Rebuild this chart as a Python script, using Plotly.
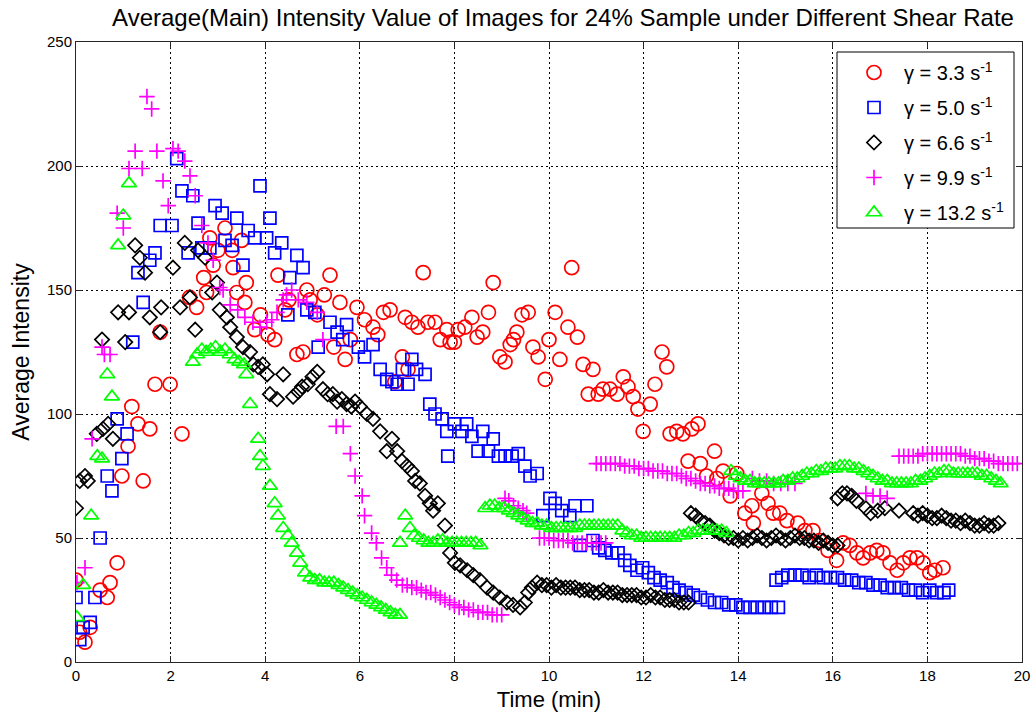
import plotly.graph_objects as go

# ---- data: (time [min], average intensity) ----
pts_33 = [(0.0,33),(0.08,12),(0.19,8),(0.3,14),(0.51,29),(0.66,26),(0.72,32),(0.87,40),(0.97,75),(1.1,87),
          (1.18,103),(1.31,96),(1.42,73),(1.56,94),(1.67,112),(1.78,133),(1.99,112),(2.24,92),(2.4,147),(2.55,143),
          (2.7,155),(2.76,149),(2.83,171),(2.9,160),(3.0,166),(3.15,175),(3.3,166),(3.32,159),(3.4,149),(3.5,170),
          (3.57,145),(3.6,153),(3.78,134),(3.9,140),(4.06,132),(4.2,130),(4.27,156),(4.42,142),(4.5,146),(4.67,124),
          (4.8,125),(4.88,150),(4.95,146),(5.1,140),(5.25,148),(5.37,156),(5.45,127),(5.58,145),(5.69,122),(5.8,130),
          (5.94,143),(6.1,138),(6.28,135),(6.38,132),(6.5,141),(6.64,142),(6.74,113),(6.9,123),(6.96,139),(7.02,118),
          (7.1,137),(7.23,135),(7.34,157),(7.44,137),(7.59,137),(7.7,130),(7.84,134),(7.91,129),(8.0,129),(8.08,134),
          (8.22,135),(8.37,139),(8.48,131),(8.6,133),(8.72,141),(8.82,153),(8.96,123),(9.07,121),(9.18,128),(9.25,130),
          (9.32,133),(9.43,140),(9.56,141),(9.66,127),(9.77,123),(9.92,114),(10.0,130),(10.13,141),(10.23,122),(10.4,135),
          (10.48,159),(10.6,131),(10.72,120),(10.83,108),(10.93,118),(11.04,108),(11.14,110),(11.29,110),(11.44,108),(11.57,115),
          (11.67,111),(11.78,107),(11.88,102),(11.99,93),(12.14,104),(12.24,112),(12.39,125),(12.49,119),(12.56,92),(12.7,93),
          (12.83,92),(12.94,81),(13.02,94),(13.15,96),(13.2,80),(13.33,75),(13.5,85),(13.55,74),(13.68,77),(13.83,67),
          (13.97,76),(14.14,60),(14.29,63),(14.32,56),(14.5,68),(14.63,64),(14.74,60),(14.88,60),(15.03,57),(15.26,56),
          (15.41,53),(15.58,53),(15.72,49),(15.9,45),(16.08,41),(16.22,48),(16.36,47),(16.51,44),(16.64,42),(16.79,44),
          (16.93,45),(17.06,44),(17.21,40),(17.36,37),(17.49,40),(17.63,42),(17.78,42),(17.91,40),(18.05,36),(18.16,37),
          (18.33,38)]

pts_50 = [(0.0,26),(0.08,9),(0.15,14),(0.3,16),(0.4,26),(0.51,50),(0.66,75),(0.76,69),(0.87,98),(0.97,82),
          (1.08,92),(1.2,129),(1.31,157),(1.42,145),(1.56,162),(1.67,165),(1.78,176),(2.03,176),(2.13,203),(2.24,190),
          (2.37,165),(2.47,188),(2.58,177),(2.66,167),(2.83,167),(2.94,184),(3.09,181),(3.15,170),(3.3,168),(3.4,179),
          (3.53,160),(3.64,174),(3.78,171),(3.89,192),(4.03,171),(4.1,179),(4.2,165),(4.35,169),(4.48,140),(4.52,155),
          (4.67,164),(4.8,159),(4.88,142),(5.05,141),(5.12,127),(5.37,137),(5.52,133),(5.64,130),(5.72,136),(5.97,127),
          (6.1,123),(6.28,128),(6.43,118),(6.57,114),(6.68,113),(6.79,112),(6.9,118),(7.02,112),(7.1,122),(7.2,118),
          (7.38,116),(7.48,104),(7.59,100),(7.74,98),(7.84,93),(7.86,83),(8.0,96),(8.16,93),(8.26,96),(8.37,91),
          (8.5,85),(8.6,93),(8.72,85),(8.82,90),(8.93,83),(9.07,83),(9.22,83),(9.35,84),(9.49,79),(9.6,75),
          (9.75,76),(9.87,59),(10.02,66),(10.13,64),(10.27,61),(10.44,59),(10.55,63),(10.8,63),(10.66,47),(10.93,49),
          (11.05,46),(11.18,45),(11.33,44),(11.46,44),(11.6,41),(11.71,39),(11.86,37),(11.98,38),(12.1,36),(12.22,34),
          (12.35,33),(12.5,32),(12.62,30),(12.75,29),(12.9,28),(13.05,27),(13.2,26),(13.35,25),(13.5,24),(13.65,24),
          (13.8,23),(13.95,23),(14.1,22),(14.25,22),(14.4,22),(14.55,22),(14.7,22),(14.85,22),(14.8,33),(14.92,34),
          (15.05,35),(15.2,35),(15.35,35),(15.5,34),(15.65,35),(15.8,34),(15.95,34),(16.1,34),(16.25,33),(16.4,33),
          (16.55,32),(16.7,32),(16.85,31),(17.0,31),(17.15,30),(17.3,30),(17.45,30),(17.6,29),(17.75,29),(17.9,28),
          (18.05,29),(18.2,28),(18.35,28),(18.45,29)]

pts_66 = [(0.0,62),(0.08,73),(0.19,75),(0.25,73),(0.44,92),(0.55,130),(0.57,94),(0.68,96),(0.78,90),(0.89,141),
          (1.04,129),(1.12,141),(1.25,168),(1.35,163),(1.46,157),(1.56,139),(1.78,133),(1.8,143),(2.05,159),(2.2,143),
          (2.3,169),(2.41,147),(2.52,134),(2.58,166),(2.73,163),(2.88,149),(2.98,153),(3.04,142),(3.19,139),(3.26,135),
          (3.4,131),(3.53,127),(3.68,125),(3.75,120),(3.85,119),(3.95,120),(4.04,116),(4.1,108),(4.25,106),(4.38,116),
          (4.59,107),(4.7,109),(4.78,111),(4.9,112),(5.0,115),(5.1,117),(5.22,110),(5.32,108),(5.43,108),(5.52,105),
          (5.62,106),(5.72,104),(5.82,103),(5.9,105),(6.0,103),(6.15,100),(6.28,98),(6.43,93),(6.57,85),(6.68,90),
          (6.79,85),(6.89,81),(7.0,79),(7.1,77),(7.17,73),(7.27,72),(7.38,67),(7.48,64),(7.55,61),(7.65,64),
          (7.8,55),(7.91,44),(8.01,40),(8.12,39),(8.27,37),(8.4,35),(8.54,33),(8.69,30),(8.82,28),(8.96,26),
          (9.11,24),(9.24,23),(9.39,22),(9.49,24),(9.56,28),(9.64,30),(9.75,32),(9.85,31),(9.95,31),(10.05,30),
          (10.15,31),(10.25,30),(10.35,30),(10.45,30),(10.55,30),(10.65,29),(10.75,29),(10.85,29),(10.95,28),(11.05,28),
          (11.15,29),(11.25,28),(11.35,28),(11.45,28),(11.55,27),(11.65,27),(11.75,27),(11.85,27),(11.95,26),(12.05,26),
          (12.15,27),(12.25,26),(12.35,26),(12.45,25),(12.55,25),(12.65,25),(12.75,24),(12.85,24),(12.95,24),(13.0,60),
          (13.1,59),(13.2,57),(13.3,56),(13.4,55),(13.5,53),(13.6,52),(13.7,51),(13.8,50),(13.9,50),(14.0,49),
          (14.1,50),(14.2,49),(14.3,50),(14.4,51),(14.5,50),(14.6,49),(14.7,50),(14.8,51),(14.9,50),(15.0,49),
          (15.1,50),(15.2,51),(15.3,50),(15.4,50),(15.5,49),(15.6,49),(15.7,48),(15.8,49),(15.9,48),(16.0,47),
          (16.1,47),(16.1,66),(16.2,68),(16.3,68),(16.4,67),(16.5,65),(16.7,62),(16.8,60),(16.95,61),(17.1,62),
          (17.4,61),(17.7,60),(17.8,59),(17.9,60),(18.0,59),(18.1,58),(18.2,58),(18.3,59),(18.4,58),(18.5,57),
          (18.6,57),(18.7,56),(18.8,57),(18.9,56),(19.0,55),(19.1,55),(19.2,56),(19.3,55),(19.4,55),(19.5,56)]

pts_99 = [(0.02,32),(0.19,38),(0.34,90),(0.55,127),(0.6,124),(0.72,124),(0.87,181),(1.0,175),(1.12,199),(1.25,206),
          (1.4,199),(1.5,228),(1.6,223),(1.71,206),(1.84,194),(1.95,184),(2.05,207),(2.16,206),(2.3,202),(2.41,196),
          (2.52,188),(2.66,176),(2.79,169),(2.9,162),(3.04,151),(3.11,150),(3.26,144),(3.42,142),(3.57,139),(3.74,137),
          (3.89,135),(4.03,137),(4.14,138),(4.25,141),(4.38,146),(4.45,148),(4.56,150),(4.7,146),(4.88,145),(5.1,141),
          (5.22,130),(5.5,95),(5.65,95),(5.8,84),(5.9,75),(6.05,67),(6.1,59),(6.25,52),(6.35,48),(6.46,42),
          (6.57,38),(6.67,35),(6.78,33),(6.9,31),(7.0,31),(7.1,30),(7.2,30),(7.3,29),(7.4,28),(7.5,28),
          (7.6,27),(7.7,26),(7.8,25),(7.9,24),(8.0,23),(8.1,22),(8.2,22),(8.3,21),(8.4,21),(8.5,20),
          (8.6,20),(8.7,20),(8.8,19),(8.9,19),(9.0,19),(9.07,66),(9.15,65),(9.25,63),(9.35,62),(9.45,61),
          (9.53,60),(9.8,50),(9.9,50),(10.0,50),(10.1,49),(10.2,49),(10.3,49),(10.4,49),(10.5,48),(10.6,48),
          (10.7,48),(10.8,48),(10.9,48),(11.0,48),(11.1,48),(11.2,48),(11.0,80),(11.1,80),(11.2,80),(11.3,80),
          (11.4,80),(11.5,80),(11.6,79),(11.7,79),(11.8,79),(11.9,78),(12.0,78),(12.1,78),(12.2,77),(12.3,77),
          (12.4,77),(12.5,76),(12.6,76),(12.7,76),(12.8,75),(12.9,74),(13.0,74),(13.1,73),(13.2,72),(13.3,72),
          (13.4,71),(13.5,71),(13.6,70),(13.7,70),(13.8,70),(13.9,69),(14.0,69),(14.1,69),(14.3,74),(14.45,73),
          (14.6,73),(14.75,72),(14.9,72),(15.05,72),(15.2,72),(16.7,68),(16.85,67),(17.0,67),(17.15,66),(17.4,83),
          (17.5,83),(17.6,83),(17.7,83),(17.8,83),(17.9,84),(18.0,84),(18.1,84),(18.2,84),(18.3,84),(18.4,84),
          (18.5,84),(18.6,84),(18.7,84),(18.8,83),(18.9,83),(19.0,82),(19.1,82),(19.2,82),(19.3,81),(19.4,81),
          (19.5,80),(19.6,80),(19.7,80),(19.8,80),(19.9,80)]

pts_132 = [(0.02,18),(0.15,31),(0.32,59),(0.45,83),(0.55,82),(0.66,116),(0.76,107),(0.89,168),(1.0,180),(1.12,193),
           (2.47,121),(2.56,124),(2.66,126),(2.75,125),(2.85,126),(2.95,127),(3.05,125),(3.15,126),(3.25,124),(3.35,122),
           (3.45,121),(3.55,120),(3.6,116),(3.68,104),(3.85,90),(3.89,83),(3.95,79),(4.1,71),(4.2,64),(4.27,59),
           (4.38,54),(4.48,51),(4.56,48),(4.67,44),(4.74,40),(4.84,36),(4.95,34),(5.05,33),(5.15,33),(5.25,32),
           (5.35,32),(5.45,32),(5.55,31),(5.65,30),(5.75,29),(5.85,28),(5.95,27),(6.05,26),(6.15,25),(6.25,24),
           (6.35,23),(6.45,22),(6.55,21),(6.65,20),(6.75,19),(6.85,19),(6.85,48),(6.96,59),(7.06,54),(7.15,51),
           (7.25,50),(7.35,49),(7.45,48),(7.55,48),(7.65,49),(7.75,49),(7.85,48),(7.95,48),(8.05,48),(8.15,48),
           (8.25,48),(8.35,48),(8.45,48),(8.55,47),(8.65,62),(8.75,63),(8.85,63),(8.95,62),(9.05,62),(9.15,61),
           (9.25,60),(9.35,59),(9.45,58),(9.55,57),(9.65,56),(9.75,56),(9.85,55),(9.95,55),(10.05,54),(10.15,54),
           (10.25,54),(10.35,54),(10.45,54),(10.55,54),(10.65,55),(10.75,55),(10.85,55),(10.95,55),(11.05,55),(11.15,55),
           (11.25,55),(11.35,55),(11.45,55),(11.55,53),(11.65,52),(11.75,51),(11.85,51),(11.95,50),(12.05,50),(12.15,50),
           (12.25,50),(12.35,50),(12.45,50),(12.55,50),(12.65,50),(12.75,51),(12.85,51),(12.95,52),(13.05,52),(13.15,53),
           (13.25,53),(13.35,53),(13.45,53),(13.55,53),(13.65,53),(13.75,52),(13.85,77),(13.95,75),(14.05,74),(14.15,73),
           (14.25,73),(14.35,72),(14.45,72),(14.55,72),(14.65,72),(14.75,72),(14.85,72),(14.95,73),(15.05,73),(15.15,74),
           (15.25,74),(15.35,75),(15.45,76),(15.55,76),(15.65,77),(15.75,77),(15.85,78),(15.95,78),(16.05,78),(16.15,79),
           (16.25,79),(16.35,79),(16.45,78),(16.55,78),(16.65,77),(16.75,76),(16.85,75),(16.95,74),(17.05,73),(17.15,73),
           (17.25,72),(17.35,72),(17.45,72),(17.55,72),(17.65,72),(17.75,73),(17.85,73),(17.95,74),(18.05,75),(18.15,76),
           (18.25,76),(18.35,77),(18.45,77),(18.55,76),(18.65,76),(18.75,76),(18.85,76),(18.95,76),(19.05,76),(19.15,75),
           (19.25,75),(19.35,74),(19.45,73),(19.55,72)]

names = ["γ = 3.3 s<sup>-1</sup>", "γ = 5.0 s<sup>-1</sup>", "γ = 6.6 s<sup>-1</sup>",
         "γ = 9.9 s<sup>-1</sup>", "γ = 13.2 s<sup>-1</sup>"]
colors = ["#FF0000", "#0000FF", "#000000", "#FF00FF", "#00FF00"]
symbols = ["circle-open", "square-open", "diamond-open", "cross-thin-open", "triangle-up-open"]
sizes = [14, 12, 11, 11, 13]
all_pts = [pts_33, pts_50, pts_66, pts_99, pts_132]

FONT = "Liberation Sans, Arial, sans-serif"

fig = go.Figure()
for k, pts in enumerate(all_pts):
    fig.add_trace(go.Scatter(
        x=[p[0] for p in pts], y=[p[1] for p in pts],
        mode="markers", name=names[k], legendgroup=str(k),
        marker=dict(symbol=symbols[k], size=sizes[k], color=colors[k],
                    line=dict(color=colors[k], width=1.7)),
    ))

fig.add_shape(type="rect", xref="paper", yref="paper",
              x0=(837 - 76) / 946, x1=(1014 - 76) / 946,
              y0=(662 - 228) / 620, y1=(662 - 52) / 620,
              line=dict(color="#000000", width=1), fillcolor="white", layer="above")

fig.update_layout(
    width=1031, height=715,
    margin=dict(l=76, r=9, t=42, b=53, autoexpand=False),
    paper_bgcolor="white", plot_bgcolor="white",
    font=dict(family=FONT, color="#000000"),
    title=dict(text="Average(Main) Intensity Value of Images for 24% Sample under Different Shear Rate",
               x=(563 - 76) / 946, xref="paper", xanchor="center", y=1 - 18 / 715, yref="container",
               yanchor="middle", font=dict(size=24, family=FONT, color="#000000")),
    legend=dict(x=(844 - 76) / 946, y=(662 - 53) / 620, xanchor="left", yanchor="top",
                bgcolor="rgba(0,0,0,0)", borderwidth=0, tracegroupgap=6, itemwidth=50,
                font=dict(size=20, family=FONT, color="#000000")),
    showlegend=True,
)

axis_common = dict(showline=True, linecolor="#262626", linewidth=1, mirror="ticks",
                   ticks="inside", ticklen=6, tickcolor="#262626", automargin=False,
                   showgrid=True, gridcolor="#000000", gridwidth=1, griddash="2px,3px",
                   zeroline=False, tickfont=dict(size=15, family=FONT, color="#000000"))

fig.update_xaxes(range=[0, 20], dtick=2, tick0=0,
                 title=dict(text="Time (min)", font=dict(size=22, family=FONT), standoff=8),
                 **axis_common)
fig.update_yaxes(range=[0, 250], dtick=50, tick0=0,
                 title=dict(text="Average Intensity", font=dict(size=23, family=FONT), standoff=10),
                 **axis_common)

fig.write_html("out.html")
